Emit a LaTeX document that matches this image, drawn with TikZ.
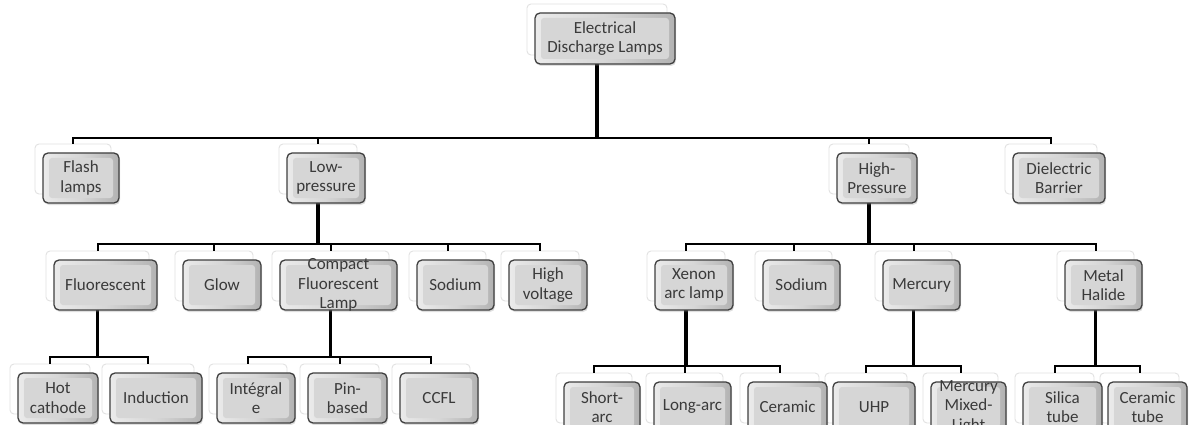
\documentclass[tikz,border=0pt]{standalone}
\usepackage{fontspec}
\setmainfont{Carlito}
\usetikzlibrary{shadows}
\definecolor{txt}{HTML}{3A3A3A}
\definecolor{rimdark}{HTML}{3F3F3F}
\definecolor{face}{HTML}{D6D6D6}
\definecolor{backline}{HTML}{E2E2E2}
\tikzset{
  backbox/.style={draw=backline, fill=white, line width=0.9pt, rounded corners=4pt, inner sep=0pt},
  frontbox/.style={draw=rimdark, line width=1.3pt, rounded corners=5pt, inner sep=0pt,
     left color=white!92!black, right color=black!30, middle color=face,
     drop shadow={opacity=0.25, shadow xshift=1pt, shadow yshift=-2pt},
     path picture={\fill[face, rounded corners=3pt]
        ([shift={(6pt,-5pt)}]path picture bounding box.north west) rectangle
        ([shift={(-6pt,5pt)}]path picture bounding box.south east);}},
  lamptext/.style={text=txt, align=center, inner sep=0pt, font=\fontsize{17}{19.5}\selectfont},
  trunk/.style={line width=3.5pt, black},
  bus/.style={line width=2pt, black},
}
% #1 name, #2 back cx, #3 back cy, #4 w, #5 h
\newcommand{\lampback}[5]{\node[backbox, minimum width=#4pt, minimum height=#5pt] (#1) at (#2,#3) {};}
% #1 name, #2 back cx, #3 back cy, #4 w, #5 h, #6 text
\newcommand{\lampfront}[6]{%
  \node[frontbox, minimum width=#4pt, minimum height=#5pt] (#1-f) at (#2+8,#3+9) {};
  \node[lamptext] (#1-t) at (#1-f.center) {#6};}
\begin{document}
\begin{tikzpicture}[x=1pt, y=-1pt]
\clip (0,0) rectangle (1189,425);
\fill[white] (0,0) rectangle (1189,425);

% back boxes (connector anchors)
\lampback{top}{597}{29.5}{140}{51}
\lampback{fla}{73}{169}{76}{50}
\lampback{lp}{318}{169}{78}{50}
\lampback{hp}{869}{169}{80}{50}
\lampback{db}{1051}{169}{92}{50}
\lampback{flu}{97.5}{276}{103}{50}
\lampback{glow}{214}{276}{78}{50}
\lampback{cfl}{330.5}{276}{117}{50}
\lampback{soda}{447.5}{276}{77}{50}
\lampback{hv}{540}{276}{78}{50}
\lampback{xe}{686}{276}{78}{50}
\lampback{sodb}{793.5}{276}{77}{50}
\lampback{hg}{913.5}{276}{77}{50}
\lampback{mh}{1095.5}{276}{77}{50}
\lampback{hc}{50}{389}{80}{50}
\lampback{ind}{148}{389}{92}{50}
\lampback{intg}{248}{389}{78}{50}
\lampback{pin}{339.5}{389}{79}{50}
\lampback{ccfl}{431}{389}{78}{50}
\lampback{sa}{594}{398}{76}{50}
\lampback{la}{684.5}{398}{77}{50}
\lampback{cer}{779.5}{398}{79}{50}
\lampback{uhp}{866}{398}{82}{50}
\lampback{mml}{960.5}{398}{75}{50}
\lampback{st}{1054.5}{398}{79}{50}
\lampback{ct}{1139.5}{398}{79}{50}

% bus coordinates
\coordinate (b0) at (597,138);
\coordinate (blp) at (318,244);
\coordinate (bhp) at (869,244);
\coordinate (bflu) at (97.5,357);
\coordinate (bcfl) at (330.5,357);
\coordinate (bxe) at (686,366);
\coordinate (bhg) at (913.5,366);
\coordinate (bmh) at (1095.5,366);

% connectors
\draw[trunk] (top.south) -- (b0);
\foreach \c in {fla,lp,hp,db} \draw[bus] (b0) -| (\c.north);
\draw[trunk] (lp.south) -- (blp);
\foreach \c in {flu,glow,cfl,soda,hv} \draw[bus] (blp) -| (\c.north);
\draw[trunk] (hp.south) -- (bhp);
\foreach \c in {xe,sodb,hg,mh} \draw[bus] (bhp) -| (\c.north);
\draw[trunk] (flu.south) -- (bflu);
\foreach \c in {hc,ind} \draw[bus] (bflu) -| (\c.north);
\draw[trunk] (cfl.south) -- (bcfl);
\foreach \c in {intg,pin,ccfl} \draw[bus] (bcfl) -| (\c.north);
\draw[trunk] (xe.south) -- (bxe);
\foreach \c in {sa,la,cer} \draw[bus] (bxe) -| (\c.north);
\draw[trunk] (hg.south) -- (bhg);
\foreach \c in {uhp,mml} \draw[bus] (bhg) -| (\c.north);
\draw[trunk] (mh.south) -- (bmh);
\foreach \c in {st,ct} \draw[bus] (bmh) -| (\c.north);

% front boxes and texts
\lampfront{top}{597}{29.5}{140}{51}{Electrical\\Discharge Lamps}
\lampfront{fla}{73}{169}{76}{50}{Flash\\lamps}
\lampfront{lp}{318}{169}{78}{50}{Low-\\pressure}
\lampfront{hp}{869}{169}{80}{50}{High-\\Pressure}
\lampfront{db}{1051}{169}{92}{50}{Dielectric\\Barrier}
\lampfront{flu}{97.5}{276}{103}{50}{Fluorescent}
\lampfront{glow}{214}{276}{78}{50}{Glow}
\lampfront{cfl}{330.5}{276}{117}{50}{Compact\\Fluorescent\\Lamp}
\lampfront{soda}{447.5}{276}{77}{50}{Sodium}
\lampfront{hv}{540}{276}{78}{50}{High\\voltage}
\lampfront{xe}{686}{276}{78}{50}{Xenon\\arc lamp}
\lampfront{sodb}{793.5}{276}{77}{50}{Sodium}
\lampfront{hg}{913.5}{276}{77}{50}{Mercury}
\lampfront{mh}{1095.5}{276}{77}{50}{Metal\\Halide}
\lampfront{hc}{50}{389}{80}{50}{Hot\\cathode}
\lampfront{ind}{148}{389}{92}{50}{Induction}
\lampfront{intg}{248}{389}{78}{50}{Intégral\\e}
\lampfront{pin}{339.5}{389}{79}{50}{Pin-\\based}
\lampfront{ccfl}{431}{389}{78}{50}{CCFL}
\lampfront{sa}{594}{398}{76}{50}{Short-\\arc}
\lampfront{la}{684.5}{398}{77}{50}{Long-arc}
\lampfront{cer}{779.5}{398}{79}{50}{Ceramic}
\lampfront{uhp}{866}{398}{82}{50}{UHP}
\lampfront{mml}{960.5}{398}{75}{50}{Mercury\\Mixed-\\Light}
\lampfront{st}{1054.5}{398}{79}{50}{Silica\\tube}
\lampfront{ct}{1139.5}{398}{79}{50}{Ceramic\\tube}
\end{tikzpicture}
\end{document}
